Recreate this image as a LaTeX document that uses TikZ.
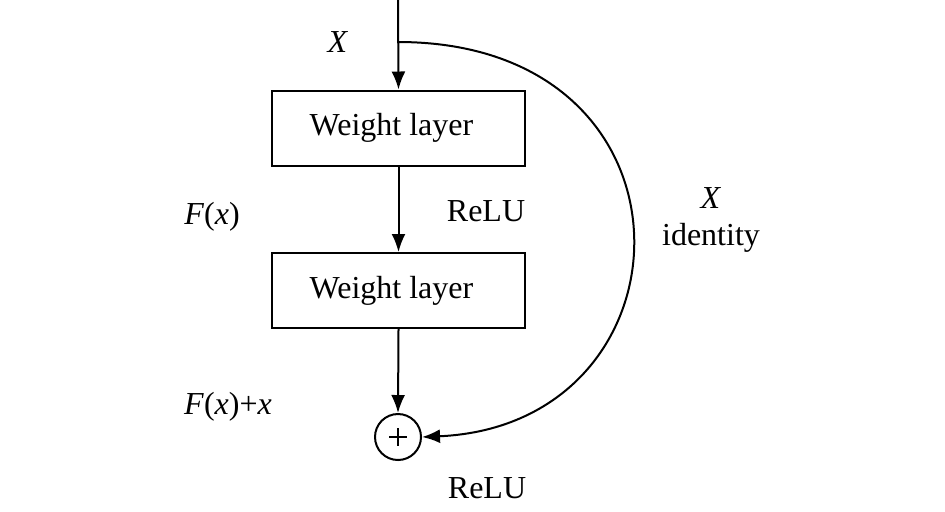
\documentclass[tikz,border=0pt]{standalone}
\usepackage{fontspec}
\setmainfont{Liberation Serif}
\usepackage{tikz}
\usetikzlibrary{arrows.meta,positioning,calc}

\tikzset{
  layerbox/.style={draw,line width=1pt,minimum width=126.5pt,minimum height=37.5pt,inner sep=0pt},
  flow/.style={line width=1pt,-{Latex[length=9pt,width=7pt]}},
  lbl/.style={inner sep=0pt}
}

\begin{document}
\begin{tikzpicture}[x=0.5pt,y=-0.5pt,font=\fontsize{16}{19}\selectfont]
  \useasboundingbox (0,0) rectangle (945,511);
  \coordinate (in) at (398,0);
  \coordinate (split) at (398,42);
  \node[layerbox] (wl1) at (398.5,128) {Weight layer\kern7pt};
  \node[layerbox] (wl2) at (398.5,290.5) {Weight layer\kern7pt};
  \node[draw,circle,line width=1pt,minimum size=23pt,inner sep=0pt] (sum) at (398,437) {};
  \draw[line width=0.6pt] ($(sum)+(-9,0)$) -- ($(sum)+(9,0)$);
  \draw[line width=0.6pt] ($(sum)+(0,-9)$) -- ($(sum)+(0,9)$);
  \draw[flow] (in) -- (wl1.north);
  \draw[flow] (wl1.south) -- (wl2.north);
  \draw[flow] (wl2.south) -- (sum.north);
  \draw[flow] (split) .. controls (712,42) and (700,425) .. (sum.east);
  % labels
  \node[lbl] (xin) at (338,42) {\textit{X}};
  \node[lbl] (fx) at (212,217) {\textit{F}(\textit{x})};
  \node[lbl] (relu1) at (486,211) {ReLU};
  \node[lbl] (xid) at (711,198) {\textit{X}};
  \node[lbl] (ident) at (711,238) {identity};
  \node[lbl] (fxx) at (228,407) {\textit{F}(\textit{x})+\textit{x}};
  \node[lbl] (relu2) at (487,488) {ReLU};
\end{tikzpicture}
\end{document}
